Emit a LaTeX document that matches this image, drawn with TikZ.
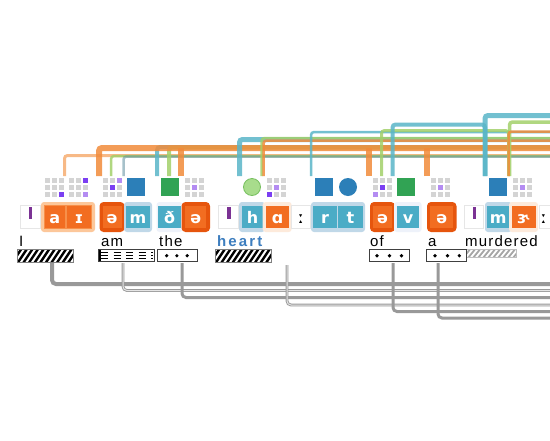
\documentclass[tikz,border=0pt]{standalone}
\usepackage{fontspec}
\setmainfont{Liberation Sans}
\newfontfamily\ipafont{DejaVu Sans}
\newfontfamily\wordfont[LetterSpace=8]{Liberation Sans}
\newfontfamily\heartfont[LetterSpace=14]{Liberation Sans}
\definecolor{orF}{HTML}{F26D21}
\definecolor{orR}{HTML}{E6550D}
\definecolor{orL}{HTML}{F7904A}
\definecolor{orBg}{HTML}{FCC79A}
\definecolor{peach}{HTML}{FDEADB}
\definecolor{tealF}{HTML}{4BACC6}
\definecolor{blueBg}{HTML}{C0D8E8}
\definecolor{paleBg}{HTML}{EEF2FA}
\definecolor{purp}{HTML}{7B3294}
\definecolor{boxG}{HTML}{E6E6E6}
\definecolor{cellG}{HTML}{D4D4D4}
\definecolor{vioD}{HTML}{7B3FF2}
\definecolor{vioL}{HTML}{B48CF2}
\definecolor{sqBlue}{HTML}{2C7FB8}
\definecolor{sqGreen}{HTML}{31A354}
\definecolor{circG}{HTML}{A8DC8C}
\definecolor{circGb}{HTML}{78C060}
\definecolor{lnOr}{HTML}{F28B3A}
\definecolor{lnOrL}{HTML}{F6A868}
\definecolor{lnTeal}{HTML}{5AB6C8}
\definecolor{lnGreen}{HTML}{A3D06A}
\definecolor{lnSlate}{HTML}{5F8FA0}
\definecolor{gline}{HTML}{999999}
\definecolor{heartBlue}{HTML}{3D7EBF}
\newcommand{\cellgrid}[1]{%
  \foreach \rr in {0,1,2}{\foreach \cc in {0,1,2}{%
    \fill[cellG] (#1+\cc*7,178+\rr*7) rectangle ++(5,5);}}}
\newcommand{\cellhi}[4]{\fill[#4] (#1+#3*7-7,178+#2*7-7) rectangle ++(5,5);}
\begin{document}
\begin{tikzpicture}[x=1pt,y=-1pt,
  ph/.style={inner sep=0pt, minimum height=22.6pt, text=white,
    font=\ipafont\bfseries\fontsize{16}{16}\selectfont, text height=12.5pt, text depth=0pt},
  ob/.style={ph, fill=orF, draw=orL, line width=1.2pt},
  sb/.style={ph, fill=orF},
  tb/.style={ph, fill=tealF},
  wb/.style={ph, fill=white, draw=boxG, line width=1pt},
  sq/.style={minimum size=18pt, inner sep=0pt},
  lbl/.style={anchor=base west, inner sep=0pt, font=\wordfont\fontsize{15}{17}\selectfont},
  arc/.style={rounded corners=3pt, opacity=0.85},
  gl/.style={draw=gline, rounded corners=4pt},
  dotbox/.style={draw=black!75, line width=0.8pt, fill=white, inner sep=0pt, minimum height=12pt}
]
\clip (0,0) rectangle (550,440);
\fill[white] (0,0) rectangle (550,440);

% ---------- top arcs ----------
\coordinate (fA) at (64.5,176);
\coordinate (fB) at (99,176);
\coordinate (fC) at (111,176);
\coordinate (fD) at (123.5,176);
\coordinate (fE) at (157,176);
\coordinate (fF) at (169,176);
\coordinate (fG) at (180.5,176);
\coordinate (fH) at (239.5,176);
\coordinate (fI) at (261.5,176);
\coordinate (fJ) at (263.5,176);
\coordinate (fK) at (311,176);
\coordinate (fL) at (369,176);
\coordinate (fM) at (381.5,176);
\coordinate (fN) at (392.5,176);
\coordinate (fO) at (427,176);
\coordinate (fP) at (485,176);
\coordinate (fQ) at (508.5,176);
\coordinate (fR) at (509.5,176);
\coordinate (eA) at (560,156.5);
\coordinate (eB) at (560,148);

\draw[arc, lnOrL, line width=3pt, opacity=0.8] (fA) |- (560,155.5);
\draw[arc, lnGreen, line width=2.5pt] (fC) |- (560,156);
\draw[arc, lnSlate, line width=2.5pt, opacity=0.55] (fD) |- (eA);
\draw[arc, lnTeal, line width=4pt] (fE) |- (560,147);
\draw[arc, lnGreen, line width=4pt] (fF) |- (560,147.5);
\draw[arc, lnOr, line width=6pt] (fB) |- (eB);
\draw[lnOr, line width=6pt, opacity=0.85] (fG) -- (fG |- eB);
\draw[lnOr, line width=6pt, opacity=0.85] (fL) -- (fL |- eB);
\draw[lnOr, line width=6pt, opacity=0.85] (fO) -- (fO |- eB);
\draw[arc, lnTeal, line width=5pt] (fH) |- (560,139.5);
\draw[arc, lnGreen, line width=2.5pt] (fI) |- (560,138);
\draw[arc, lnOr, line width=2.5pt] (fJ) |- (560,140.5);
\draw[arc, lnTeal, line width=2.5pt] (fK) |- (560,132);
\draw[arc, lnGreen, line width=3pt] (fM) |- (508.5,130.5) -- (fQ);
\draw[arc, lnTeal, line width=4pt] (fN) |- (485,124.5) -- (fP);
\draw[arc, lnTeal, line width=5pt] (fP) |- (560,115.5);
\draw[arc, lnGreen, line width=3.5pt] (fR) |- (560,122);
\draw[arc, lnOr, line width=2.5pt] (fQ) |- (560,131.5);

% ---------- icon row ----------
\cellgrid{45}\cellhi{45}{3}{3}{vioD}
\cellgrid{69}\cellhi{69}{1}{3}{vioD}\cellhi{69}{3}{3}{vioL}
\cellgrid{103}\cellhi{103}{1}{3}{vioL}\cellhi{103}{2}{2}{vioD}
\node[sq, fill=sqBlue] (sqA) at (136,187) {};
\node[sq, fill=sqGreen] (sqB) at (170,187) {};
\cellgrid{185}\cellhi{185}{2}{2}{vioL}
\node[circle, minimum size=17pt, inner sep=0pt, fill=circG, draw=circGb, line width=0.8pt] (ciA) at (252,187) {};
\cellgrid{267}\cellhi{267}{2}{2}{vioL}\cellhi{267}{3}{1}{vioD}
\node[sq, fill=sqBlue] (sqC) at (324,187) {};
\node[circle, minimum size=18pt, inner sep=0pt, fill=sqBlue] (ciB) at (348,187) {};
\cellgrid{373}\cellhi{373}{2}{2}{vioD}\cellhi{373}{3}{1}{vioL}
\node[sq, fill=sqGreen] (sqD) at (406,187) {};
\cellgrid{431}\cellhi{431}{2}{2}{vioL}
\node[sq, fill=sqBlue] (sqE) at (498,187) {};
\cellgrid{513}\cellhi{513}{2}{2}{vioL}

% ---------- phoneme row ----------
% I
\node[wb, minimum width=20pt] (wI) at (30.5,217) {};
\fill[purp] (29,207) rectangle (32,219);
\fill[orBg, rounded corners=3pt] (41,202) rectangle (95,232);
\node[ob, minimum width=21pt] (pa) at (54.7,217) {a};
\node[ob, minimum width=25pt] (pi) at (79,217) {ɪ};
% am
\fill[orR, rounded corners=4pt] (99.5,202) rectangle (124.5,232);
\node[sb, minimum width=19pt] (ps1) at (112,217) {ə};
\fill[blueBg, rounded corners=3pt] (124,202) rectangle (152,232);
\node[tb, minimum width=24pt] (pm1) at (138,217) {m};
% the
\fill[paleBg, rounded corners=3pt] (156.5,202) rectangle (182.5,232);
\node[tb, minimum width=23.5pt] (pdh) at (169.7,217) {ð};
\fill[orR, rounded corners=4pt] (181.5,202) rectangle (210,232);
\node[sb, minimum width=20.5pt] (ps2) at (195.7,217) {ə};
% heart
\node[wb, minimum width=20pt] (wH) at (228,217) {};
\fill[purp] (227,207) rectangle (230.5,219);
\fill[blueBg, rounded corners=3pt] (239,202) rectangle (265,232);
\node[tb, minimum width=21.6pt] (ph1) at (252.5,217) {h};
\fill[peach, rounded corners=3pt] (262.7,202) rectangle (291.7,232);
\node[ob, draw=none, minimum width=23.3pt] (pah) at (277.7,217) {ɑ};
\node[wb, minimum width=19pt, text=black] (plen1) at (301,217) {ː};
\fill[blueBg, rounded corners=3pt] (311,202) rectangle (365,232);
\node[tb, minimum width=23.7pt] (pr) at (325,217) {r};
\node[tb, minimum width=25pt] (pt) at (350.5,217) {t};
% of
\fill[orR, rounded corners=4pt] (370,202) rectangle (395,232);
\node[sb, minimum width=19pt] (ps3) at (382.5,217) {ə};
\fill[paleBg, rounded corners=3pt] (394,202) rectangle (421.7,232);
\node[tb, minimum width=22.6pt] (pv) at (408,217) {v};
% a
\fill[orR, rounded corners=4pt] (427,202) rectangle (456.5,232);
\node[sb, minimum width=23.5pt] (ps4) at (441.7,217) {ə};
% murdered
\node[wb, minimum width=19pt] (wM) at (474,217) {};
\fill[purp] (472.7,207) rectangle (476,219);
\fill[blueBg, rounded corners=3pt] (485,202) rectangle (511.7,232);
\node[tb, minimum width=23.3pt] (pm2) at (498.3,217) {m};
\fill[peach, rounded corners=3pt] (509,202) rectangle (538,232);
\node[ob, draw=none, minimum width=24pt] (per) at (523.7,217) {ɝ};
\filldraw[fill=white, draw=boxG, line width=1pt] (539.5,205.7) rectangle (565,228.3);
\node[ph, text=black, anchor=west] (plen2) at (541,217) {ː};

% ---------- word labels ----------
\node[lbl] (tI) at (19,246) {I};
\node[lbl] (tam) at (101,246) {am};
\node[lbl] (tthe) at (159,246) {the};
\node[anchor=base west, inner sep=0pt, text=heartBlue, font=\heartfont\bfseries\fontsize{15}{17}\selectfont] (theart) at (217,246) {heart};
\node[lbl] (tof) at (370,246) {of};
\node[lbl] (ta) at (428,246) {a};
\node[lbl] (tmur) at (465,246) {murdered};

% ---------- pattern boxes ----------
\begin{scope}
  \clip (17,249) rectangle (73,262);
  \foreach \s in {0,5.6,...,72} \draw[line width=2.4pt] (17+\s-5,263) -- (17+\s+5,248);
\end{scope}
\draw[draw=gray, line width=0.8pt] (17,249) rectangle (73,262);
\node[inner sep=0pt, minimum width=56pt, minimum height=13pt] (bI) at (45,255.5) {};

\node[draw=black!75, line width=0.8pt, inner sep=0pt, minimum width=56pt, minimum height=12.5pt] (bam) at (126,255.5) {};
\foreach \yy in {252.2,255.5,258.8}
  \draw[line width=1.2pt, dash pattern=on 7pt off 5.5pt] (101,\yy) -- (153,\yy);
\draw[line width=1.2pt] (100,250) -- (100,261);

\node[dotbox, minimum width=40pt] (bthe) at (177,255.5) {};
\foreach \xx in {166.7,176.9,187.2} \fill (\xx,255.7) circle (1.8pt);

\begin{scope}
  \clip (215,249) rectangle (271,262);
  \foreach \s in {0,5.6,...,72} \draw[line width=2.4pt] (215+\s-5,263) -- (215+\s+5,248);
\end{scope}
\draw[draw=gray, line width=0.8pt] (215,249) rectangle (271,262);
\node[inner sep=0pt, minimum width=56pt, minimum height=13pt] (bheart) at (243,255.5) {};

\node[dotbox, minimum width=40pt] (bof) at (389,255.5) {};
\foreach \xx in {377,389.5,401.5} \fill (\xx,255.7) circle (1.8pt);

\begin{scope}
  \clip (462,249) rectangle (516.5,257);
  \foreach \s in {0,5,...,60} \draw[gray!70, line width=1.8pt] (462+\s-4,258) -- (462+\s+4,248);
\end{scope}
\draw[draw=gray!50, line width=0.8pt] (462,249) rectangle (516.5,257);
\node[inner sep=0pt, minimum width=54pt, minimum height=8pt] (bmur) at (489,253) {};

\node[dotbox, minimum width=40pt] (ba) at (446.7,255.5) {};
\foreach \xx in {435,447.5,459.3} \fill (\xx,255.7) circle (1.8pt);

% ---------- bottom gray lines ----------
\coordinate (gI) at (52,263);
\coordinate (gAm) at (123,263);
\coordinate (gThe) at (182,263);
\coordinate (gHeart) at (287,265);
\coordinate (gOf) at (393,263);
\coordinate (gA) at (438,263);
\draw[gl, line width=4pt] (gI) |- (560,284);
\draw[gl, line width=0.9pt, double=gray!20, double distance=1pt] (gAm) |- (560,290.5);
\draw[gl, line width=3pt] (gThe) |- (560,297.5);
\draw[gl, line width=0.9pt, double=gray!20, double distance=1pt] (gHeart) |- (560,305);
\draw[gl, line width=3pt] (gOf) |- (560,311.5);
\draw[gl, line width=3pt] (gA) |- (560,318);
\end{tikzpicture}
\end{document}
